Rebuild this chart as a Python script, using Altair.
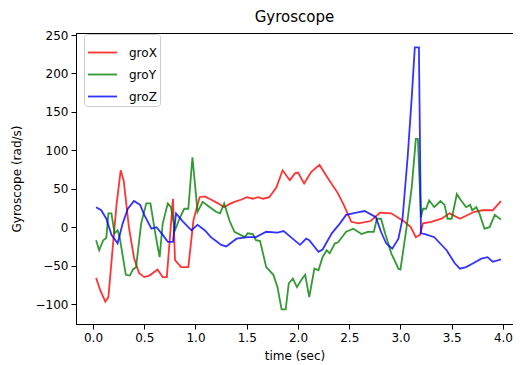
import altair as alt
import pandas as pd

# groX (red)
tx = [0.03, 0.07, 0.12, 0.15, 0.19, 0.23, 0.27, 0.30, 0.35, 0.40, 0.45, 0.50, 0.55, 0.60, 0.63,
      0.68, 0.72, 0.78, 0.80, 0.86, 0.93, 0.98, 1.04, 1.09, 1.15, 1.22, 1.28, 1.33, 1.38, 1.45,
      1.50, 1.56, 1.61, 1.66, 1.72, 1.79, 1.85, 1.92, 1.97, 2.00, 2.06, 2.13, 2.21, 2.30, 2.39,
      2.45, 2.52, 2.59, 2.71, 2.80, 2.91, 3.04, 3.10, 3.15, 3.19, 3.22, 3.30, 3.40, 3.48, 3.58,
      3.72, 3.80, 3.90, 3.98]
vx = [-66, -82, -97, -91, -30, 30, 74, 60, 0, -40, -60, -65, -63, -58, -55,
      -65, -65, 37, -43, -52, -52, 9, 39, 40, 36, 31, 26, 30, 33, 36,
      39, 37, 39, 37, 39, 52, 74, 61, 70, 71, 57, 72, 81, 62, 44,
      28, 7, 5, 8, 19, 18, 7, 0, -13, -10, 5, 7, 11, 18, 11,
      20, 22, 22, 34]

# groY (green)
ty = [0.03, 0.06, 0.10, 0.13, 0.15, 0.18, 0.21, 0.24, 0.26, 0.32, 0.36, 0.39, 0.42, 0.47, 0.52,
      0.56, 0.61, 0.65, 0.68, 0.73, 0.76, 0.80, 0.85, 0.89, 0.93, 0.97, 1.02, 1.07, 1.14, 1.20,
      1.24, 1.28, 1.33, 1.38, 1.48, 1.51, 1.56, 1.59, 1.63, 1.69, 1.76, 1.80, 1.84, 1.88, 1.91,
      1.95, 1.99, 2.04, 2.07, 2.11, 2.16, 2.20, 2.24, 2.28, 2.31, 2.36, 2.39, 2.47, 2.54, 2.62,
      2.68, 2.74, 2.77, 2.81, 2.85, 2.91, 2.98, 3.00, 3.06, 3.11, 3.15, 3.17, 3.20, 3.22, 3.25,
      3.28, 3.33, 3.39, 3.43, 3.46, 3.50, 3.55, 3.59, 3.64, 3.68, 3.70, 3.74, 3.77, 3.82, 3.87,
      3.92, 3.98]
vy = [-17, -30, -17, -14, 18, 18, -8, -4, -13, -62, -63, -55, -52, 5, 31,
      31, -10, -39, 5, 31, 26, -4, 13, 24, 24, 91, 20, 33, 26, 20,
      18, 31, 9, -6, -13, -8, -9, -17, -18, -52, -62, -78, -107, -107, -73,
      -67, -78, -67, -62, -91, -54, -56, -39, -30, -34, -21, -20, -6, -2, -9,
      -6, -6, 11, 11, -8, -34, -54, -55, 0, 52, 115, 115, 13, 24, 24,
      35, 26, 34, 29, 11, 11, 43, 35, 26, 29, 22, 26, 18, -2, 0,
      16, 10]

# groZ (blue)
tz = [0.03, 0.08, 0.13, 0.18, 0.24, 0.29, 0.34, 0.40, 0.46, 0.50, 0.57, 0.62, 0.68, 0.73, 0.78,
      0.81, 0.88, 0.96, 1.02, 1.09, 1.15, 1.21, 1.25, 1.30, 1.40, 1.51, 1.59, 1.69, 1.80, 1.86,
      1.93, 2.02, 2.08, 2.11, 2.20, 2.24, 2.33, 2.41, 2.47, 2.57, 2.65, 2.72, 2.76, 2.81, 2.86,
      2.92, 2.98, 3.02, 3.07, 3.11, 3.14, 3.18, 3.20, 3.24, 3.33, 3.45, 3.53, 3.58, 3.64, 3.71,
      3.79, 3.85, 3.90, 3.93, 3.98]
vz = [26, 22, 11, -10, -21, 5, 24, 34, 29, 16, -2, 0, -10, -19, -19,
      18, 7, -4, 3, -4, -13, -19, -23, -25, -15, -13, -13, -6, -7, -5,
      -13, -23, -15, -17, -32, -29, -8, 5, 16, 19, 21, 16, 13, -6, -21,
      -28, -15, 11, 91, 169, 234, 234, -8, -9, -13, -30, -47, -54, -52, -47,
      -41, -39, -45, -44, -42]

series = ["groX", "groY", "groZ"]
colors = ["red", "green", "blue"]
x_ticks = [0.0, 0.5, 1.0, 1.5, 2.0, 2.5, 3.0, 3.5, 4.0]
y_ticks = [-100, -50, 0, 50, 100, 150, 200, 250]

frames = []
for name, t, v in zip(series, [tx, ty, tz], [vx, vy, vz]):
    frames.append(pd.DataFrame({"t": t, "v": v, "series": name, "order": range(len(t))}))
df = pd.concat(frames, ignore_index=True)

font = "DejaVu Sans"

chart = alt.Chart(df).mark_line(strokeWidth=1.8, strokeOpacity=0.8).encode(
    x=alt.X("t:Q", title="time (sec)",
            scale=alt.Scale(domain=[-0.166, 4.098], nice=False, zero=False),
            axis=alt.Axis(values=x_ticks, format=".1f", labelFlush=False)),
    y=alt.Y("v:Q", title="Gyroscope (rad/s)",
            scale=alt.Scale(domain=[-126, 252.7], nice=False, zero=False),
            axis=alt.Axis(values=y_ticks, format="d")),
    color=alt.Color("series:N", scale=alt.Scale(domain=series, range=colors),
                    legend=alt.Legend(title=None, orient="none", legendX=8, legendY=1,
                                      symbolType="stroke", symbolSize=841, symbolStrokeWidth=1.8,
                                      symbolOpacity=0.8,
                                      labelFontSize=12, labelFont=font, labelColor="black",
                                      labelOffset=11, rowPadding=-11, padding=3,
                                      fillColor="white", strokeColor="#cccccc", cornerRadius=3)),
    order="order:Q",
    detail="series:N",
).properties(
    width=437, height=291,
    title=alt.TitleParams("Gyroscope", fontSize=15, font=font, fontWeight="normal",
                          color="black", offset=4),
    autosize=alt.AutoSizeParams(type="none"),
    padding={"left": 68, "top": 25, "right": 0, "bottom": 40},
).configure_view(
    stroke="black", strokeWidth=1
).configure_axis(
    grid=False, domainColor="black", tickColor="black", labelColor="black",
    titleColor="black", labelFont=font, titleFont=font, labelFontSize=12,
    titleFontSize=12, titleFontWeight="normal", tickSize=5, labelPadding=3,
).configure_axisX(titlePadding=7).configure_axisY(titlePadding=12)

chart.save("out.html", embed_options={"renderer": "svg", "actions": False})
